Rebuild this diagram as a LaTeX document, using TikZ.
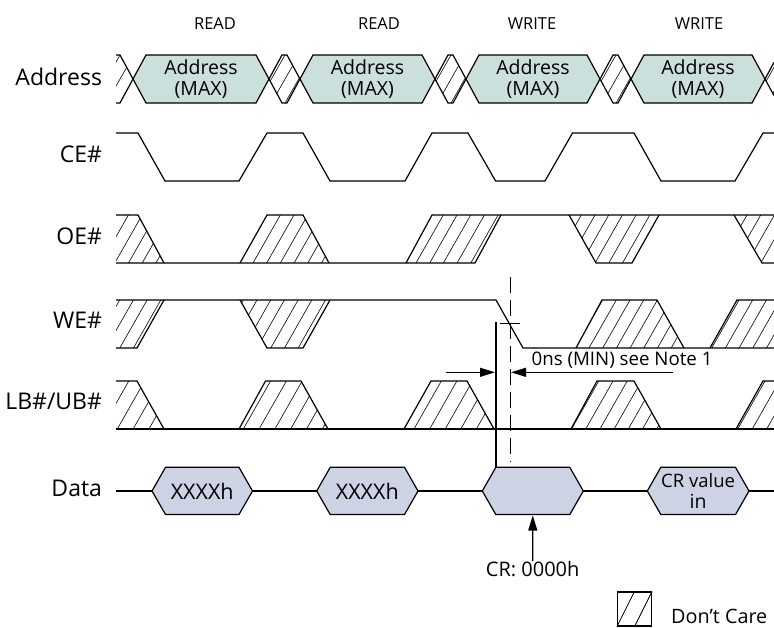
\documentclass[tikz,border=0pt]{standalone}
\usepackage{fontspec}
\setmainfont{Open Sans}
\usepackage{xcolor}
\definecolor{addrfill}{HTML}{CBDFDC}
\definecolor{datafill}{HTML}{CDD3E4}
\usetikzlibrary{arrows.meta}
\newcommand{\hatchshape}[4]{
	\begin{scope}
		\clip #1;
		\foreach \k in {0,...,9}
			\draw[hatchline] ({#3+\k*#4},#2) -- ++(-27.3,48);
	\end{scope}
}
\tikzset{
	sigline/.style={line width=1.2pt,black},
	hatchline/.style={line width=0.6pt,black},
	marker/.style={line width=1.2pt,-{Triangle[length=15pt,width=9pt]}},
	siglabel/.style={anchor=east,font=\fontsize{23}{26}\selectfont},
	cycle label/.style={font=\fontsize{16.5}{19}\selectfont},
	cell/.style={align=center,inner sep=0,font=\fontsize{19.5}{21}\selectfont},
	note/.style={inner sep=0,font=\fontsize{18.7}{21}\selectfont},
}
\begin{document}
\begin{tikzpicture}[x=1pt,y=-1pt]
	\useasboundingbox (0,0) rectangle (774,627);
	\node[cycle label] (read1) at (215,24) {READ};
	\node[cycle label] (read2) at (379,24) {READ};
	\node[cycle label] (write1) at (532,24) {WRITE};
	\node[cycle label] (write2) at (699,24) {WRITE};
	\node[siglabel] (addr) at (105.5,77) {Address};
	\node[siglabel] (ce) at (105.5,154) {CE\#};
	\node[siglabel] (oe) at (105.5,236) {OE\#};
	\node[siglabel] (we) at (105.5,320) {WE\#};
	\node[siglabel] (lb) at (105.5,401) {LB\#/UB\#};
	\node[siglabel] (data) at (105.5,488) {Data};

	\hatchshape{(116,55) -- (120,55) -- (133,79) -- (120,103) -- (116,103) -- cycle}{55}{106.3}{13.7}
	\foreach \c in {284.5,450.5,615.5} {
		\hatchshape{(\c-15.5,79) -- (\c-2.5,55) -- (\c+2.5,55) -- (\c+15.5,79) -- (\c+2.5,103) -- (\c-2.5,103) -- cycle}{55}{\c+0.5}{13.7}
	}
	\hatchshape{(765,79) -- (774,62.4) -- (774,95.6) -- cycle}{55}{781}{13.7}
	\foreach \l/\r/\n in {133/269/a1,300/435/a2,466/600/a3,631/765/a4} {
		\draw[sigline,fill=addrfill] (\l,79) -- (\l+13,55) -- (\r-13,55) -- (\r,79) -- (\r-13,103) -- (\l+13,103) -- cycle;
		\node[cell] (\n) at ({(\l+\r)/2},79) {Address\\(MAX)};
	}
	\draw[sigline] (116,55) -- (120,55) -- (133,79);
	\draw[sigline] (116,103) -- (120,103) -- (133,79);
	\foreach \c in {284.5,450.5,615.5} {
		\draw[sigline] (\c-15.5,79) -- (\c-2.5,55) -- (\c+2.5,55) -- (\c+15.5,79) -- (\c+2.5,103) -- (\c-2.5,103) -- cycle;
	}
	\draw[sigline] (774,62.4) -- (765,79) -- (774,95.6);

	\draw[sigline] (116,133) -- (138,133) -- (165,181) -- (239,181) -- (267,133) -- (303,133) -- (330,181) -- (405,181) -- (432,133) -- (468,133) -- (495.6,181) -- (545,181) -- (572.5,133) -- (634,133) -- (661,181) -- (735,181) -- (763,133) -- (774,133);

	\hatchshape{(116,215) -- (138,215) -- (164,263) -- (116,263) -- cycle}{215}{101}{13.7}
	\hatchshape{(240,263) -- (267,215) -- (303,215) -- (329,263) -- cycle}{215}{266.6}{13.7}
	\hatchshape{(406,263) -- (432,215) -- (501,215) -- (475,263) -- cycle}{215}{429.6}{13.7}
	\hatchshape{(569,215) -- (596,263) -- (632,263) -- (659,215) -- cycle}{215}{567.6}{13.7}
	\hatchshape{(734,215) -- (762,263) -- (774,263) -- (774,215) -- cycle}{215}{747}{13.7}
	\draw[sigline] (116,215) -- (138,215) -- (164,263);
	\draw[sigline] (116,263) -- (406,263) -- (432,215) -- (774,215);
	\draw[sigline] (240,263) -- (267,215) -- (303,215) -- (329,263);
	\draw[sigline] (406,263) -- (475,263) -- (501,215);
	\draw[sigline] (569,215) -- (596,263) -- (632,263) -- (659,215);
	\draw[sigline] (734,215) -- (762,263) -- (774,263);

	\hatchshape{(116,300) -- (164,300) -- (137,348) -- (116,348) -- cycle}{300}{106}{13.7}
	\hatchshape{(240,300) -- (267,348) -- (303,348) -- (330,300) -- cycle}{300}{243.3}{13.7}
	\hatchshape{(576,348) -- (602,300) -- (657,300) -- (684,348) -- cycle}{300}{602.6}{13.7}
	\hatchshape{(710,348) -- (737,300) -- (774,300) -- (774,348) -- cycle}{300}{739}{13.7}
	\draw[sigline] (116,348) -- (137,348) -- (164,300);
	\draw[sigline] (116,300) -- (496,300) -- (523,348) -- (774,348);
	\draw[sigline] (240,300) -- (267,348) -- (303,348) -- (330,300);
	\draw[sigline] (576,348) -- (602,300) -- (657,300) -- (684,348);
	\draw[sigline] (710,348) -- (737,300) -- (774,300);

	\hatchshape{(116,381) -- (137,381) -- (164,429) -- (116,429) -- cycle}{381}{113}{15.8}
	\hatchshape{(239,429) -- (265.5,381) -- (301,381) -- (328,429) -- cycle}{381}{270.6}{15.8}
	\hatchshape{(404,429) -- (431,381) -- (467,381) -- (494,429) -- cycle}{381}{441.3}{15.6}
	\hatchshape{(571,429) -- (597,381) -- (634,381) -- (661,429) -- cycle}{381}{598.8}{14.2}
	\hatchshape{(736,429) -- (763,381) -- (774,381) -- (774,429) -- cycle}{381}{765}{14.5}
	\draw[sigline] (116,381) -- (137,381) -- (164,429);
	\draw[sigline] (116,429) -- (774,429);
	\draw[sigline] (239,429) -- (265.5,381) -- (301,381) -- (328,429);
	\draw[sigline] (404,429) -- (431,381) -- (467,381) -- (494,429);
	\draw[sigline] (571,429) -- (597,381) -- (634,381) -- (661,429);
	\draw[sigline] (736,429) -- (763,381) -- (774,381);

	\draw[sigline] (116,491) -- (774,491);
	\foreach \l/\r/\n/\t in {152/252.5/d1/{\fontsize{21.5}{24}\selectfont XXXXh},316.7/418/d2/{\fontsize{21.5}{24}\selectfont XXXXh},482.3/583.3/d3/{},647.3/749/d4/{\fontsize{18.5}{24}\selectfont CR value\\in}} {
		\draw[sigline,fill=datafill] (\l,491) -- (\l+13.5,467.3) -- (\r-13.5,467.3) -- (\r,491) -- (\r-13.5,514.5) -- (\l+13.5,514.5) -- cycle;
		\node[cell] (\n) at ({(\l+\r)/2},491) {\t};
	}

	\coordinate (edgetop) at (496,322);
	\coordinate (edgebot) at (496,467.3);
	\coordinate (dashtop) at (510,277);
	\coordinate (dashbot) at (510,461.5);
	\coordinate (ticka) at (500,323.3);
	\coordinate (tickb) at (519.7,323.3);
	\coordinate (arra) at (445.7,372.3);
	\coordinate (arrb) at (495,372.3);
	\coordinate (arrc) at (673,372.3);
	\coordinate (arrd) at (511,372.3);
	\draw[sigline] (edgetop) -- (edgebot);
	\draw[hatchline,dash pattern=on 16pt off 7pt] (dashtop) -- (dashbot);
	\draw[hatchline] (ticka) -- (tickb);
	\path[marker]
		(arra) edge (arrb)
		(arrc) edge (arrd);
	\node[note] (zero) at (622,360) {0ns (MIN) see Note 1};

	\node[note,font=\fontsize{20}{22}\selectfont] (cr) at (532.7,569) {CR: 0000h};
	\path[marker] (cr.north) edge (d3.center |- 0,515.5);

	\node[draw,line width=1.2pt,minimum width=34pt,minimum height=34pt,inner sep=0] (legend) at (634.5,609) {};
	\draw[hatchline,line width=0.8pt] (legend.north) -- (legend.south west);
	\draw[hatchline,line width=0.8pt] (legend.north east) -- (legend.south);
	\node[note,anchor=base west,font=\fontsize{19.8}{22}\selectfont] (care) at (671,623.5) {Don’t Care};
\end{tikzpicture}
\end{document}
